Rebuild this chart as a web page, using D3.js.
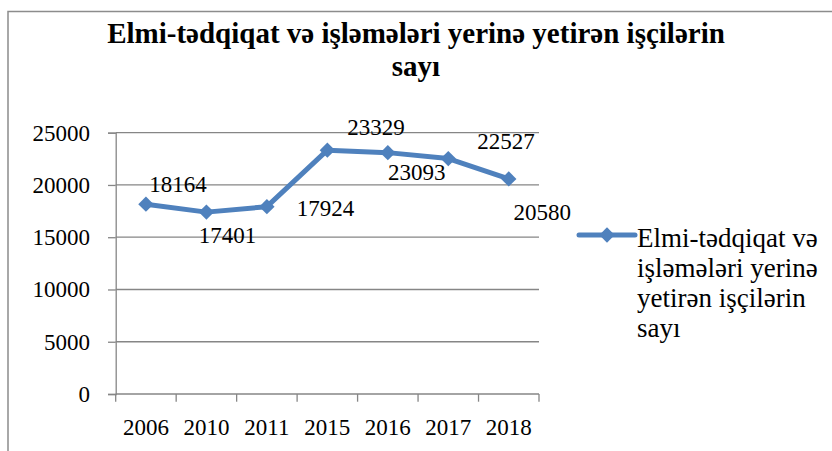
<!DOCTYPE html>
<html>
<head>
<meta charset="utf-8">
<script src="https://cdnjs.cloudflare.com/ajax/libs/d3/7.8.5/d3.min.js"></script>
<style>
  body { margin: 0; background: #fff; }
  svg text { font-family: "Liberation Serif", "Times New Roman", Tinos, "DejaVu Serif", serif; }
</style>
</head>
<body>
<div id="chart"></div>
<script>
var years = ["2006", "2010", "2011", "2015", "2016", "2017", "2018"];
var workers = [18164, 17401, 17924, 23329, 23093, 22527, 20580];
var yTicks = [0, 5000, 10000, 15000, 20000, 25000];
var titleLines = ["Elmi-tədqiqat və işləmələri yerinə yetirən işçilərin", "sayı"];
var legendLines = ["Elmi-tədqiqat və", "işləmələri yerinə", "yetirən işçilərin", "sayı"];

// where each value label sits relative to its point (hand placed in the original)
var labelOffsets = [[32, -12.5], [21, 31], [58.6, 9.3], [48.6, -15], [29, 27.4], [57.6, -9.3], [33.5, 41]];

var blue = "#4f81bd", grey = "#868686";

var svg = d3.select("#chart").append("svg")
    .attr("width", 832)
    .attr("height", 451);

// outer frame (runs off the right and bottom edges)
svg.append("rect")
    .attr("x", 8).attr("y", 11.5)
    .attr("width", 900).attr("height", 500)
    .attr("fill", "none")
    .attr("stroke", "#8c8c8c")
    .attr("stroke-width", 1.5);

svg.selectAll(".title")
    .data(titleLines)
    .enter().append("text")
    .attr("class", "title")
    .attr("x", 416)
    .attr("y", function(d, i) { return 43 + i * 33; })
    .attr("text-anchor", "middle")
    .attr("font-weight", "bold")
    .attr("font-size", 29)
    .text(function(d) { return d; });

var x = d3.scaleBand()
    .domain(years)
    .range([115.7, 539]);

var y = d3.scaleLinear()
    .domain([0, 25000])
    .range([394, 132.7]);

// gridlines
svg.selectAll(".grid")
    .data(yTicks)
    .enter().append("line")
    .attr("class", "grid")
    .attr("x1", x.range()[0]).attr("x2", x.range()[1])
    .attr("y1", function(d) { return y(d); })
    .attr("y2", function(d) { return y(d); })
    .attr("stroke", grey)
    .attr("stroke-width", 1.3);

var yAxis = svg.append("g")
    .attr("transform", "translate(" + x.range()[0] + ",0)")
    .call(d3.axisLeft(y).tickValues(yTicks).tickSize(7.7).tickPadding(18).tickFormat(d3.format("d")));
yAxis.select(".domain").attr("stroke", grey).attr("stroke-width", 1.3);
yAxis.selectAll(".tick line").attr("stroke", grey).attr("stroke-width", 1.3);
yAxis.attr("font-family", null).attr("font-size", 23);
yAxis.selectAll("text").attr("fill", "#000");

var xAxis = svg.append("g")
    .attr("transform", "translate(0," + y(0) + ")")
    .call(d3.axisBottom(x).tickSize(0).tickPadding(24.7));
xAxis.select(".domain").remove();
xAxis.attr("font-family", null).attr("font-size", 23);
xAxis.selectAll("text").attr("fill", "#000");

// x ticks sit on the category boundaries
var bounds = years.map(function(d) { return x(d); }).concat([x.range()[1]]);
svg.selectAll(".xtick")
    .data(bounds)
    .enter().append("line")
    .attr("class", "xtick")
    .attr("x1", function(d) { return d; }).attr("x2", function(d) { return d; })
    .attr("y1", y(0)).attr("y2", y(0) + 7.7)
    .attr("stroke", grey)
    .attr("stroke-width", 1.3);

var cx = function(d, i) { return x(years[i]) + x.bandwidth() / 2; };

var line = d3.line()
    .x(cx)
    .y(function(d) { return y(d); });

svg.append("path")
    .datum(workers)
    .attr("d", line)
    .attr("fill", "none")
    .attr("stroke", blue)
    .attr("stroke-width", 5)
    .attr("stroke-linejoin", "round");

var diamond = d3.symbol().type(d3.symbolDiamond2).size(150);

svg.selectAll(".pt")
    .data(workers)
    .enter().append("path")
    .attr("class", "pt")
    .attr("d", diamond)
    .attr("transform", function(d, i) { return "translate(" + cx(d, i) + "," + y(d) + ")"; })
    .attr("fill", blue);

svg.selectAll(".lbl")
    .data(workers)
    .enter().append("text")
    .attr("class", "lbl")
    .attr("x", function(d, i) { return cx(d, i) + labelOffsets[i][0]; })
    .attr("y", function(d, i) { return y(d) + labelOffsets[i][1]; })
    .attr("text-anchor", "middle")
    .attr("font-size", 23)
    .text(function(d) { return d; });

// legend
var legend = svg.append("g").attr("transform", "translate(579,235)");
legend.append("line")
    .attr("x1", 0).attr("x2", 56)
    .attr("stroke", blue)
    .attr("stroke-width", 5)
    .attr("stroke-linecap", "round");
legend.append("path")
    .attr("d", diamond)
    .attr("transform", "translate(28,0)")
    .attr("fill", blue);
legend.selectAll("text")
    .data(legendLines)
    .enter().append("text")
    .attr("x", 58)
    .attr("y", function(d, i) { return 11.7 + i * 30; })
    .attr("font-size", 27)
    .text(function(d) { return d; });
</script>
</body>
</html>
